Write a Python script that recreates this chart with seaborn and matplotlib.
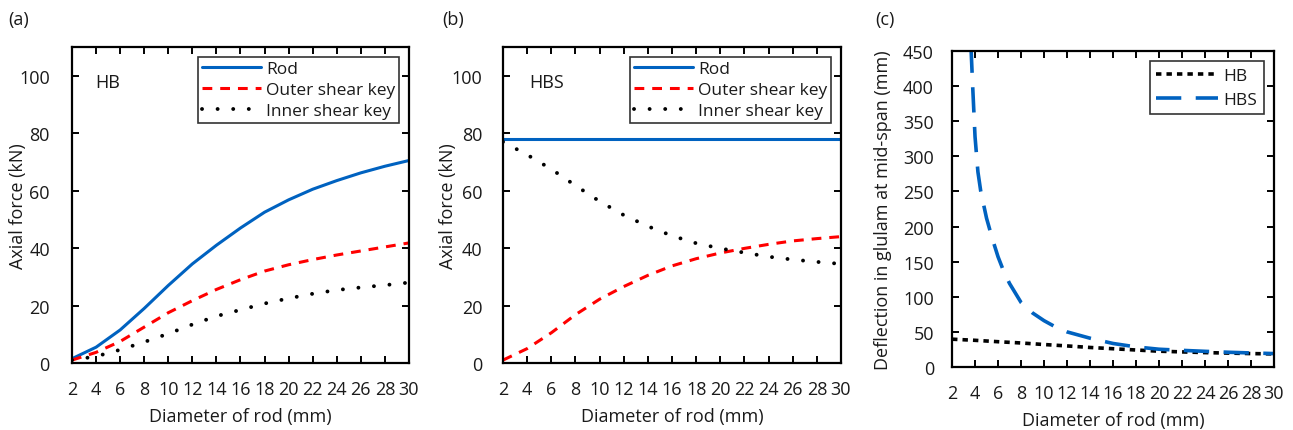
import matplotlib
matplotlib.use("Agg")
import matplotlib.pyplot as plt
import seaborn as sns
import numpy as np

# ---------------- data ----------------
diam = [2, 4, 6, 8, 10, 12, 14, 16, 18, 20, 22, 24, 26, 28, 30]

hb_rod = [1.5, 5.5, 11.5, 19.0, 27.0, 34.5, 41.0, 47.0, 52.5, 56.8, 60.5, 63.5, 66.2, 68.5, 70.5]
hb_outer = [1.0, 3.7, 7.5, 12.5, 17.5, 21.7, 25.6, 29.0, 32.0, 34.2, 36.0, 37.6, 39.0, 40.4, 41.8]
hb_inner = [1.0, 2.3, 4.6, 7.3, 10.2, 13.4, 16.3, 18.5, 20.7, 22.5, 24.1, 25.4, 26.3, 27.1, 28.0]

hbs_rod = [78, 78, 78, 78, 78, 78, 78, 78, 78, 78, 78, 78, 78, 78, 78]
hbs_outer = [1.0, 5.0, 10.5, 16.8, 22.2, 26.6, 30.5, 33.8, 36.3, 38.3, 39.9, 41.3, 42.5, 43.3, 44.0]
hbs_inner = [77.0, 72.5, 67.5, 61.8, 56.3, 51.5, 47.6, 44.3, 41.7, 39.9, 38.4, 37.0, 36.0, 35.2, 34.5]

defl_hb = [39.6, 38.0, 36.0, 34.2, 32.0, 30.0, 27.8, 26.0, 24.2, 22.5, 21.5, 20.5, 19.8, 19.1, 18.6]
diam_hbs = [3.65, 3.8, 4.0, 4.25, 4.5, 5.0, 5.5, 6.0, 6.5, 7.0, 8.0, 9.0, 10.0, 11.0, 12.0,
            14.0, 16.0, 18.0, 20.0, 22.0, 24.0, 26.0, 28.0, 30.0]
defl_hbs = [455, 398, 328, 278, 250, 212, 183, 157, 136, 119, 92, 77, 66, 57, 50,
            41, 33.5, 28.6, 25.3, 23.7, 22.3, 21.0, 20.0, 19.1]

x_ticks = [2, 4, 6, 8, 10, 12, 14, 16, 18, 20, 22, 24, 26, 28, 30]

# ---------------- style ----------------
sns.set_theme(style="ticks")
plt.rcParams['font.family'] = ['Open Sans', 'DejaVu Sans']

FS = 13
TXT = '#1a1a1a'
BLUE = "#0062C0"
RED = "#FF0000"
LW = 2.2

fig = plt.figure(figsize=(12.93, 4.31), dpi=100)

ax_a = fig.add_axes([0.0557, 0.1555, 0.2606, 0.733])
ax_b = fig.add_axes([0.389, 0.1555, 0.2614, 0.733])
ax_c = fig.add_axes([0.7363, 0.1462, 0.249, 0.733])

dash_outer = (0, (3.2, 2.6))
dot_inner = (0, (0.01, 4.0))


def style_axis(ax, ylim, yticks, ypad, ylab_x):
    ax.set_xlim(2, 30)
    ax.set_ylim(*ylim)
    ax.set_xticks(x_ticks)
    ax.set_yticks(yticks)
    ax.tick_params(axis='both', direction='in', length=5, width=1.4,
                   top=True, right=True, labelsize=FS, color='black',
                   labelcolor=TXT)
    ax.tick_params(axis='y', pad=ypad)
    ax.tick_params(axis='x', pad=12)
    for s in ax.spines.values():
        s.set_visible(True)
        s.set_linewidth(1.6)
        s.set_color('black')
    ax.set_xlabel("Diameter of rod (mm)", fontsize=FS, color=TXT, va='center')
    ax.xaxis.set_label_coords(0.5, -0.168)
    ax.yaxis.label.set_va('center')
    ax.yaxis.label.set_ha('center')
    ax.yaxis.set_label_coords(ylab_x, 0.5)


# Panel (a)
sns.lineplot(x=diam, y=hb_rod, ax=ax_a, color=BLUE, lw=LW, label="Rod")
sns.lineplot(x=diam, y=hb_outer, ax=ax_a, color=RED, lw=LW, linestyle=dash_outer, label="Outer shear key")
sns.lineplot(x=diam, y=hb_inner, ax=ax_a, color='black', lw=LW + 0.6, linestyle=dot_inner,
             dash_capstyle='round', label="Inner shear key")
ax_a.set_ylabel("Axial force (kN)", fontsize=FS, color=TXT)
style_axis(ax_a, (0, 110), [0, 20, 40, 60, 80, 100], 16, -0.16)
ax_a.text(3.9, 98, "HB", fontsize=FS, va='center', ha='left', color=TXT)

# Panel (b)
sns.lineplot(x=diam, y=hbs_rod, ax=ax_b, color=BLUE, lw=LW, label="Rod")
sns.lineplot(x=diam, y=hbs_outer, ax=ax_b, color=RED, lw=LW, linestyle=dash_outer, label="Outer shear key")
sns.lineplot(x=diam, y=hbs_inner, ax=ax_b, color='black', lw=LW + 0.6, linestyle=dot_inner,
             dash_capstyle='round', label="Inner shear key")
ax_b.set_ylabel("Axial force (kN)", fontsize=FS, color=TXT)
style_axis(ax_b, (0, 110), [0, 20, 40, 60, 80, 100], 15, -0.163)
ax_b.text(4.15, 98, "HBS", fontsize=FS, va='center', ha='left', color=TXT)

# Panel (c)
sns.lineplot(x=diam, y=defl_hb, ax=ax_c, color='black', lw=LW + 0.4, linestyle=(0, (1.5, 1.4)), label="HB")
sns.lineplot(x=diam_hbs, y=defl_hbs, ax=ax_c, color=BLUE, lw=LW + 0.4, linestyle=(0, (7, 4)), label="HBS")
ax_c.set_ylabel("Deflection in glulam at mid-span (mm)", fontsize=FS, color=TXT)
style_axis(ax_c, (0, 450), [0, 50, 100, 150, 200, 250, 300, 350, 400, 450], 13, -0.214)

for ax in (ax_a, ax_b):
    leg = ax.legend(loc='upper right', frameon=True, fancybox=False, fontsize=FS - 0.5,
                    handlelength=3.4, handletextpad=0.3, borderpad=0.2,
                    labelspacing=0.28, borderaxespad=0.6, edgecolor='black')
    leg.get_frame().set_linewidth(1.2)
    for t in leg.get_texts():
        t.set_color(TXT)

leg = ax_c.legend(loc='upper right', frameon=True, fancybox=False, fontsize=FS - 0.5,
                  handlelength=3.6, handletextpad=0.3, borderpad=0.35,
                  labelspacing=0.45, borderaxespad=0.6, edgecolor='black')
leg.get_frame().set_linewidth(1.2)
for t in leg.get_texts():
    t.set_color(TXT)

fig.text(8 / 1293, 1 - 20 / 431, "(a)", fontsize=FS, va='center', ha='left', color=TXT)
fig.text(442 / 1293, 1 - 20 / 431, "(b)", fontsize=FS, va='center', ha='left', color=TXT)
fig.text(875 / 1293, 1 - 20 / 431, "(c)", fontsize=FS, va='center', ha='left', color=TXT)

fig.savefig("out.png", dpi=100, facecolor='white')
